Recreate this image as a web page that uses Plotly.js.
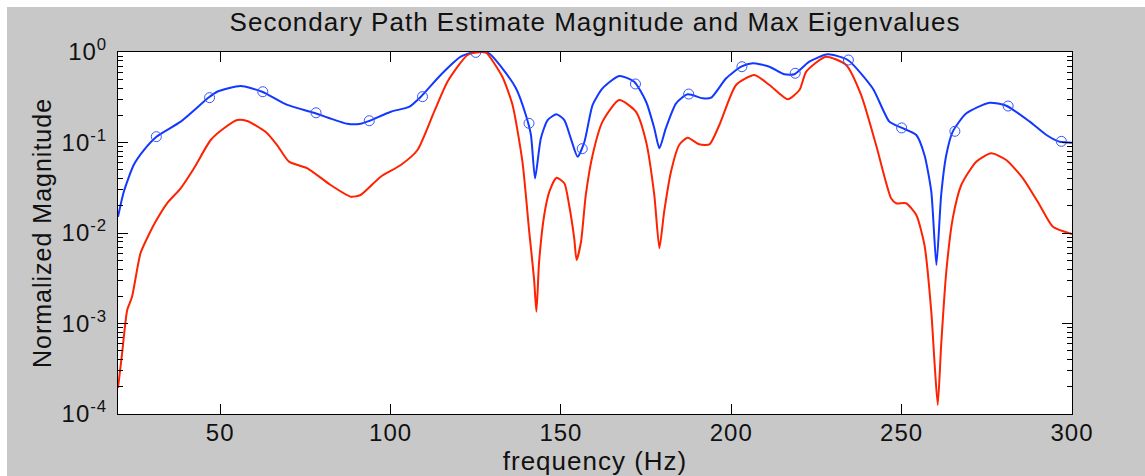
<!DOCTYPE html>
<html>
<head>
<meta charset="utf-8">
<script src="https://cdn.plot.ly/plotly-3.0.1.min.js"></script>
<style>
html,body{margin:0;padding:0;background:#ffffff;}
#chart{position:absolute;left:7px;top:7px;width:1138px;height:469px;}
#chart svg text{letter-spacing:1px;}
</style>
</head>
<body>
<div id="chart"></div>
<script>
// Secondary path estimate magnitude (blue) — frequency in Hz, normalized magnitude
const blueFreq = [20, 21.7, 24.6, 27.6, 31.3, 38.4, 46.7, 49.1, 56.0, 62.3, 69.7, 77.5, 87.3, 91.2, 93.7, 100.1, 105.4, 108.9, 114.7, 120.6, 124.5, 128.9, 132.8, 136.8, 139.7, 141.2, 142.4, 144.1, 146.1, 148.7, 151.0, 152.9, 154.9, 156.9, 159.3, 162.2, 167.1, 171.5, 175.0, 177.4, 178.9, 180.8, 183.8, 187.2, 191.6, 194.1, 198.5, 202.9, 206.3, 211.2, 215.6, 218.5, 222.9, 228.3, 234.2, 241.5, 246.4, 249.9, 254.3, 256.7, 258.7, 260.2, 261.6, 263.1, 265.0, 269.0, 275.8, 280.7, 287.6, 292.5, 296.4, 300];
const blueMag = [0.0151, 0.0286, 0.0564, 0.0826, 0.116, 0.170, 0.316, 0.364, 0.421, 0.364, 0.260, 0.213, 0.161, 0.161, 0.173, 0.219, 0.247, 0.321, 0.557, 0.887, 1.0, 0.968, 0.660, 0.397, 0.201, 0.121, 0.0402, 0.111, 0.177, 0.205, 0.177, 0.111, 0.0697, 0.102, 0.260, 0.397, 0.543, 0.470, 0.282, 0.144, 0.0863, 0.144, 0.271, 0.341, 0.308, 0.313, 0.512, 0.688, 0.750, 0.688, 0.567, 0.567, 0.781, 0.943, 0.816, 0.397, 0.170, 0.146, 0.121, 0.0728, 0.0286, 0.00443, 0.0263, 0.0728, 0.132, 0.210, 0.275, 0.255, 0.170, 0.121, 0.102, 0.0995];

// Max eigenvalues (red)
const redFreq = [20, 21.2, 22.7, 24.1, 26.6, 29.0, 31.0, 34.4, 38.4, 42.3, 47.2, 51.1, 55.0, 57.9, 63.3, 66.7, 70.2, 75.6, 82.4, 88.3, 91.2, 97.1, 103.0, 107.9, 112.8, 116.7, 122.6, 126.5, 128.0, 132.8, 135.8, 138.7, 140.7, 142.1, 142.8, 143.6, 145.1, 146.6, 148.7, 151.0, 152.4, 153.9, 154.6, 155.9, 157.3, 159.3, 162.2, 167.1, 172.0, 175.0, 177.4, 178.9, 180.3, 182.3, 184.7, 187.2, 190.6, 193.6, 196.5, 201.4, 206.8, 211.2, 216.6, 220.0, 222.0, 227.8, 233.7, 238.1, 242.5, 246.9, 248.4, 251.3, 254.3, 256.7, 258.7, 259.7, 260.6, 261.6, 263.1, 265.0, 267.5, 271.9, 276.3, 280.7, 285.6, 290.5, 294.4, 300];
const redMag = [1.94e-4, 4.69e-4, 1.41e-3, 1.96e-3, 5.97e-3, 9.5e-3, 0.0133, 0.0213, 0.0312, 0.0519, 0.1066, 0.1436, 0.1773, 0.173, 0.1316, 0.0938, 0.0614, 0.0519, 0.0339, 0.0252, 0.0263, 0.0419, 0.0564, 0.0826, 0.219, 0.470, 0.927, 1.0, 0.99, 0.533, 0.260, 0.0614, 0.0103, 3.16e-3, 1.35e-3, 4.82e-3, 0.0158, 0.0286, 0.0408, 0.0354, 0.0204, 8.73e-3, 5.03e-3, 8.0e-3, 0.0263, 0.0728, 0.170, 0.295, 0.219, 0.102, 0.0263, 6.78e-3, 0.0172, 0.0475, 0.0938, 0.113, 0.0955, 0.0955, 0.156, 0.432, 0.557, 0.432, 0.300, 0.380, 0.606, 0.887, 0.718, 0.335, 0.0938, 0.0242, 0.0213, 0.0213, 0.0158, 7.37e-3, 1.35e-3, 3.48e-4, 1.26e-4, 5.78e-4, 3.73e-3, 0.0145, 0.0339, 0.0614, 0.076, 0.0641, 0.0402, 0.0204, 0.0117, 9.75e-3];

// Circle markers on the blue estimate
const markFreq = [31.25, 46.875, 62.5, 78.125, 93.75, 109.375, 125, 140.625, 156.25, 171.875, 187.5, 203.125, 218.75, 234.375, 250, 265.625, 281.25, 296.875];
const markMag = [0.116, 0.313, 0.364, 0.213, 0.174, 0.321, 0.99, 0.163, 0.0855, 0.443, 0.343, 0.688, 0.582, 0.816, 0.145, 0.133, 0.253, 0.103];

// Axis ticks
const xTicks = [50, 100, 150, 200, 250, 300];
const yTickVals = [1e-4, 1e-3, 1e-2, 1e-1, 1];
const yTickText = ['10<sup>-4</sup>', '10<sup>-3</sup>', '10<sup>-2</sup>', '10<sup>-1</sup>', '10<sup>0</sup>'];

const FONT = 'Liberation Sans, Arial, sans-serif';
const TXT = '#111111';

const traces = [
  {x: blueFreq, y: blueMag, mode: 'lines', line: {color: '#1238ff', width: 2, shape: 'spline', smoothing: 0.6}, hoverinfo: 'skip'},
  {x: redFreq, y: redMag, mode: 'lines', line: {color: '#ff2200', width: 2, shape: 'spline', smoothing: 0.6}, hoverinfo: 'skip'},
  {x: markFreq, y: markMag, mode: 'markers', marker: {symbol: 'circle-open', size: 10, color: '#3355ff', line: {width: 1, color: '#3355ff'}}, hoverinfo: 'skip'}
];

const layout = {
  width: 1138, height: 469,
  paper_bgcolor: '#c8c8c8',
  plot_bgcolor: '#ffffff',
  showlegend: false,
  margin: {l: 111, r: 73, t: 45, b: 62},
  font: {family: FONT, size: 24, color: TXT},
  title: {text: 'Secondary Path Estimate Magnitude and Max Eigenvalues', font: {family: FONT, size: 26, color: TXT}, x: 0.5, xref: 'paper', xanchor: 'center', y: 0.968, yref: 'container', yanchor: 'middle'},
  xaxis: {
    range: [20, 300], tickvals: xTicks, ticktext: xTicks.map(String),
    ticks: 'inside', ticklen: 10, tickwidth: 1, tickcolor: '#000',
    showline: true, linecolor: '#000', linewidth: 1, mirror: 'ticks',
    showgrid: false, zeroline: false, ticklabelstandoff: -3,
    tickfont: {family: FONT, size: 24, color: TXT},
    title: {text: 'frequency (Hz)', font: {family: FONT, size: 26, color: TXT}, standoff: 0}
  },
  yaxis: {
    type: 'log', range: [-4, 0], tickvals: yTickVals, ticktext: yTickText,
    ticks: 'inside', ticklen: 10, tickwidth: 1, tickcolor: '#000',
    showline: true, linecolor: '#000', linewidth: 1, mirror: 'ticks',
    showgrid: false, zeroline: false, ticklabelstandoff: 5,
    minor: {ticks: 'inside', ticklen: 5, tickwidth: 1, tickcolor: '#000', dtick: 'D1', showgrid: false},
    tickfont: {family: FONT, size: 24, color: TXT},
    title: {text: 'Normalized Magnitude', font: {family: FONT, size: 25, color: TXT}, standoff: 6}
  }
};

Plotly.newPlot('chart', traces, layout, {displayModeBar: false, staticPlot: true});
</script>
</body>
</html>
